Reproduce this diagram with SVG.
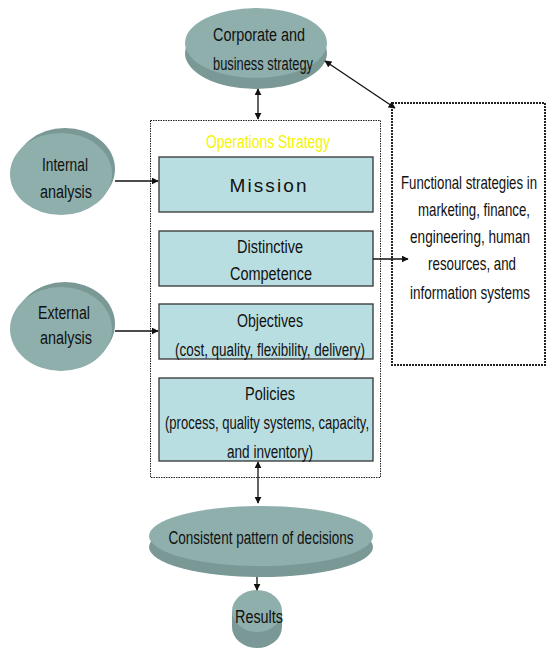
<svg xmlns="http://www.w3.org/2000/svg" width="548" height="649" viewBox="0 0 548 649">
<style>
.t{font-family:"Liberation Sans",Arial,sans-serif;font-size:18px;fill:#111;text-anchor:middle}
.box{fill:#b9dee1;stroke:#333;stroke-width:1.3}
.top{fill:#8fafad}
.side{fill:#7a9896}
.ln{stroke:#111;stroke-width:1.3;fill:none}
</style>
<defs>
<marker id="ah" viewBox="0 0 10 10" refX="9" refY="5" markerWidth="7" markerHeight="7" markerUnits="userSpaceOnUse" orient="auto-start-reverse">
<path d="M0,0 L10,5 L0,10 z" fill="#111"/>
</marker>
</defs>
<rect width="548" height="649" fill="#fff"/>

<g id="ops-strategy">
<rect x="150.5" y="120.5" width="230" height="357" fill="none" stroke="#222" stroke-width="1" stroke-dasharray="1.5 1"/>
<text class="t" x="268" y="148" style="fill:#f4f400" textLength="124" lengthAdjust="spacingAndGlyphs">Operations Strategy</text>
</g>

<g id="mission">
<rect class="box" x="159" y="157" width="214" height="55"/>
<text class="t" x="268" y="192" style="font-size:19px" textLength="77" lengthAdjust="spacing">Mission</text>
</g>

<g id="distinctive">
<rect class="box" x="159" y="231" width="214" height="55"/>
<text class="t" x="270" y="253" textLength="66" lengthAdjust="spacingAndGlyphs">Distinctive</text>
<text class="t" x="271" y="280" textLength="82" lengthAdjust="spacingAndGlyphs">Competence</text>
</g>

<g id="objectives">
<rect class="box" x="159" y="304" width="214" height="55"/>
<text class="t" x="270" y="327" textLength="66" lengthAdjust="spacingAndGlyphs">Objectives</text>
<text class="t" x="270" y="356" textLength="190" lengthAdjust="spacingAndGlyphs">(cost, quality, flexibility, delivery)</text>
</g>

<g id="policies">
<rect class="box" x="159" y="378" width="214" height="83"/>
<text class="t" x="270" y="400" textLength="50" lengthAdjust="spacingAndGlyphs">Policies</text>
<text class="t" x="267" y="429" textLength="204" lengthAdjust="spacingAndGlyphs">(process, quality systems, capacity,</text>
<text class="t" x="270" y="458" textLength="86" lengthAdjust="spacingAndGlyphs">and inventory)</text>
</g>

<g id="functional">
<rect x="392" y="103" width="153" height="262" fill="none" stroke="#222" stroke-width="2" stroke-dasharray="2 1"/>
<g transform="translate(470,0) scale(0.745,1)">
<text class="t" x="-1.3" y="189" textLength="182.6" lengthAdjust="spacingAndGlyphs">Functional strategies in</text>
<text class="t" x="5.4" y="216" textLength="150.3" lengthAdjust="spacingAndGlyphs">marketing, finance,</text>
<text class="t" x="0" y="243" textLength="161" lengthAdjust="spacingAndGlyphs">engineering, human</text>
<text class="t" x="2.7" y="270" textLength="118" lengthAdjust="spacingAndGlyphs">resources, and</text>
<text class="t" x="0" y="299" textLength="161" lengthAdjust="spacingAndGlyphs">information systems</text>
</g>
</g>

<g id="corporate">
<ellipse class="side" cx="256" cy="53" rx="71" ry="36"/>
<ellipse class="top" cx="256" cy="43" rx="71" ry="35"/>
<text class="t" x="259" y="41" textLength="92" lengthAdjust="spacingAndGlyphs">Corporate and</text>
<text class="t" x="263" y="70" textLength="100" lengthAdjust="spacingAndGlyphs">business strategy</text>
</g>

<g id="internal">
<ellipse class="side" cx="65" cy="169" rx="50" ry="41"/>
<ellipse class="top" cx="61" cy="174" rx="51" ry="41"/>
<text class="t" x="65" y="171" textLength="46" lengthAdjust="spacingAndGlyphs">Internal</text>
<text class="t" x="66" y="198" textLength="52" lengthAdjust="spacingAndGlyphs">analysis</text>
</g>

<g id="external">
<ellipse class="side" cx="65" cy="324" rx="50" ry="42"/>
<ellipse class="top" cx="61" cy="329" rx="51" ry="42"/>
<text class="t" x="64" y="319" textLength="52" lengthAdjust="spacingAndGlyphs">External</text>
<text class="t" x="66" y="344" textLength="52" lengthAdjust="spacingAndGlyphs">analysis</text>
</g>

<g id="consistent">
<ellipse class="side" cx="261" cy="547" rx="112" ry="30"/>
<ellipse class="top" cx="261" cy="536" rx="112" ry="30"/>
<text class="t" x="261" y="544" textLength="185" lengthAdjust="spacingAndGlyphs">Consistent pattern of decisions</text>
</g>

<g id="results">
<ellipse class="side" cx="257" cy="627" rx="25" ry="21"/>
<rect class="side" x="232" y="612" width="50" height="15"/>
<ellipse class="top" cx="257" cy="611" rx="25" ry="21"/>
<text class="t" x="259" y="623" textLength="48" lengthAdjust="spacingAndGlyphs">Results</text>
</g>

<g id="connectors">
<line class="ln" x1="258" y1="89" x2="258" y2="119" marker-start="url(#ah)" marker-end="url(#ah)"/>
<line class="ln" x1="325" y1="61" x2="395" y2="108" marker-start="url(#ah)" marker-end="url(#ah)"/>
<line class="ln" x1="115" y1="181" x2="158" y2="181" marker-end="url(#ah)"/>
<line class="ln" x1="115" y1="331" x2="158" y2="331" marker-end="url(#ah)"/>
<line class="ln" x1="373" y1="259" x2="408" y2="259" marker-end="url(#ah)"/>
<line class="ln" x1="258" y1="462" x2="258" y2="503" marker-start="url(#ah)" marker-end="url(#ah)"/>
<line class="ln" x1="257" y1="577" x2="257" y2="590" marker-end="url(#ah)"/>
</g>
</svg>
